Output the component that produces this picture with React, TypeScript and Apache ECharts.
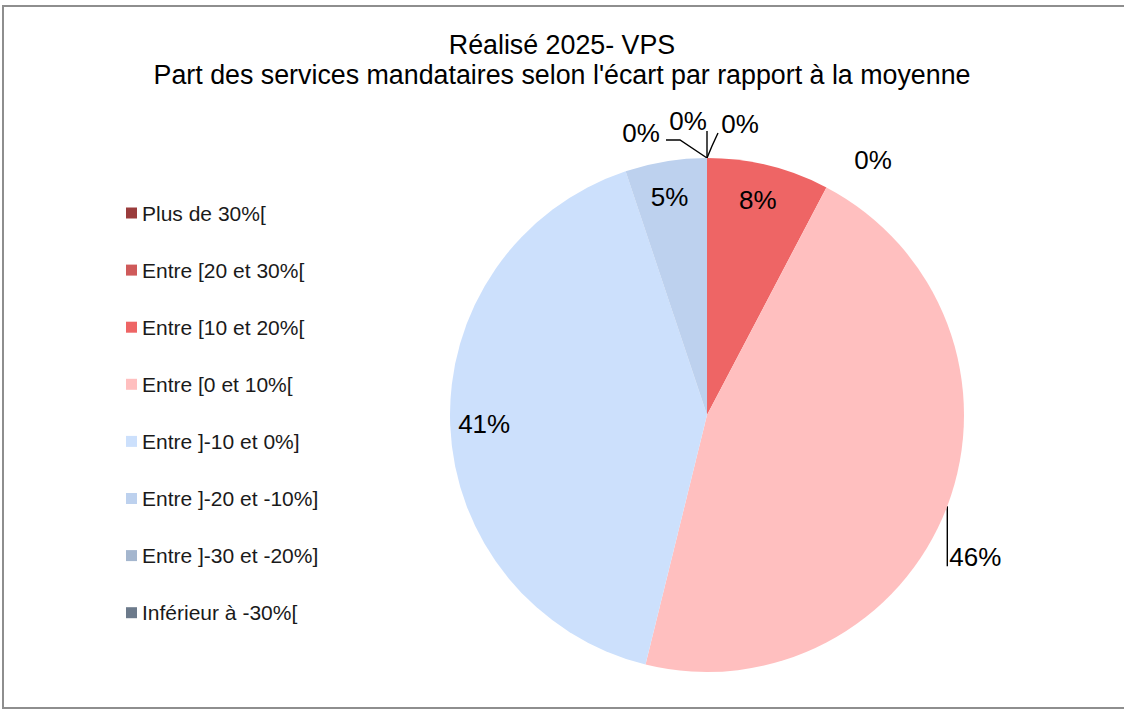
import React, { useEffect, useRef } from "react";
import * as echarts from "echarts";

// ---- data ----
const categories = [
  "Plus de 30%[",
  "Entre [20 et 30%[",
  "Entre [10 et 20%[",
  "Entre [0 et 10%[",
  "Entre ]-10 et 0%]",
  "Entre ]-20 et -10%]",
  "Entre ]-30 et -20%]",
  "Inférieur à -30%[",
];
const serviceCounts = [0, 0, 3, 18, 16, 2, 0, 0];
const sliceColors = ["#9a3c3c", "#cf5a5a", "#ee6565", "#ffbfbf", "#cce0fc", "#bdd1ee", "#a4b6ce", "#6c7a8b"];
const titleLines = [
  "Réalisé 2025- VPS",
  "Part des services mandataires selon l'écart par rapport à la moyenne",
];

// ---- layout ----
const CX = 707;
const CY = 415;
const R = 257;
const FONT = "'Liberation Sans', Arial, sans-serif";
const labelModes = ["zero", "zero", "inside", "outside", "inside", "inside", "zero", "zero"];
// offsets relative to the top point of the pie for the zero-valued slices
const zeroLabelOffsets: Record<number, { label: [number, number]; line: [number, number][] }> = {
  0: { label: [33, -34], line: [[5, -12], [11, -25]] },
  1: { label: [166, 2], line: [] },
  6: { label: [-19, -37], line: [[0, -14], [0, -27]] },
  7: { label: [-66, -25], line: [[-27, -18], [-41, -18]] },
};

export default function App() {
  const ref = useRef<HTMLDivElement>(null);
  useEffect(() => {
    if (!ref.current) return;
    const chart = echarts.init(ref.current, null, { renderer: "svg" });
    const total = serviceCounts.reduce((a, b) => a + b, 0);
    const prefix: number[] = [];
    let acc = 0;
    serviceCounts.forEach((v) => {
      prefix.push(acc);
      acc += v;
    });

    const data = categories.map((name, i) => {
      const mode = labelModes[i];
      return {
        name,
        value: serviceCounts[i],
        itemStyle: { color: sliceColors[i] },
        label: { position: mode === "inside" ? "inside" : "outside" },
        labelLine: { show: mode === "outside" || (mode === "zero" && zeroLabelOffsets[i].line.length > 0) },
      };
    });

    chart.setOption({
      animation: false,
      backgroundColor: "#ffffff",
      title: {
        text: titleLines.join("\n"),
        left: "center",
        top: 30,
        padding: 0,
        textStyle: { fontSize: 26.8, fontWeight: "normal", color: "#000", fontFamily: FONT, lineHeight: 30 },
      },
      legend: {
        orient: "vertical",
        left: 121,
        top: 197,
        itemWidth: 11,
        itemHeight: 11,
        itemGap: 35.1,
        icon: "rect",
        selectedMode: false,
        textStyle: { fontSize: 21, color: "#1a1a1a", fontFamily: FONT, lineHeight: 22 },
        data: categories,
      },
      graphic: [
        {
          type: "polyline",
          shape: { points: [[1130, 6], [3, 6], [3, 708], [1130, 708]] },
          style: { fill: "none", stroke: "#8e8e8e", lineWidth: 2 },
          silent: true,
        },
      ],
      series: [
        {
          type: "pie",
          center: [CX, CY],
          radius: R,
          startAngle: 90,
          clockwise: true,
          percentPrecision: 0,
          avoidLabelOverlap: false,
          emphasis: { disabled: true },
          itemStyle: { borderWidth: 0 },
          label: {
            show: true,
            formatter: "{d}%",
            fontSize: 26,
            color: "#000",
            fontFamily: FONT,
          },
          labelLine: { lineStyle: { color: "#000", width: 1.4 }, length: 10, length2: 10 },
          labelLayout: (p: any) => {
            const i = p.dataIndex;
            const mode = labelModes[i];
            const mid = ((prefix[i] + serviceCounts[i] / 2) / total) * Math.PI * 2;
            const sx = Math.sin(mid);
            const sy = -Math.cos(mid);
            if (mode === "inside") {
              return { x: CX + 0.86 * R * sx - 2, y: CY + 0.86 * R * sy, align: "center", verticalAlign: "middle" };
            }
            if (mode === "outside") {
              const ex = CX + R * sx;
              const ey = CY + R * sy;
              return {
                x: ex + 2,
                y: ey + 51,
                align: "left",
                verticalAlign: "middle",
                labelLinePoints: [
                  [ex, ey],
                  [ex, ey + 30],
                  [ex, ey + 60],
                ],
              };
            }
            const tx = CX + R * sx;
            const ty = CY + R * sy;
            const z = zeroLabelOffsets[i];
            const res: any = {
              x: tx + z.label[0],
              y: ty + z.label[1],
              align: "center",
              verticalAlign: "middle",
            };
            if (z.line.length) {
              res.labelLinePoints = [[tx, ty], ...z.line.map(([dx, dy]) => [tx + dx, ty + dy])];
            }
            return res;
          },
          data,
        },
      ],
    });
    return () => chart.dispose();
  }, []);

  return (
    <div
      ref={ref}
      style={{ position: "absolute", left: 0, top: 0, width: 1124, height: 709, background: "#fff" }}
    />
  );
}
